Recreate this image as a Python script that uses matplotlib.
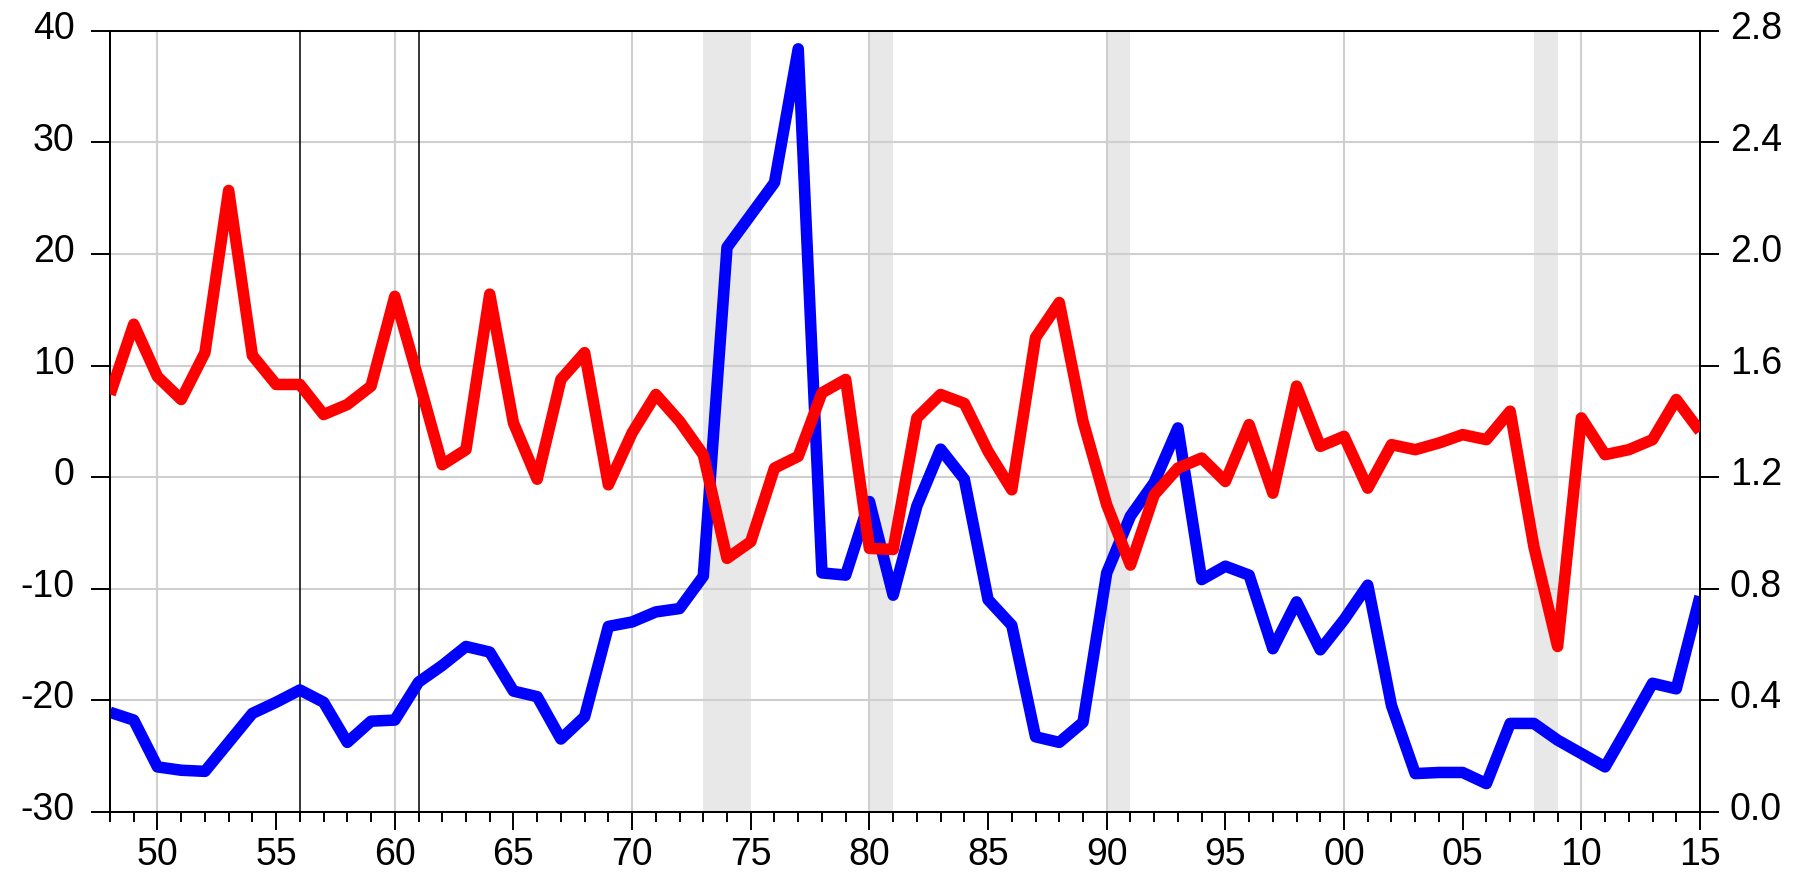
import matplotlib
matplotlib.use("Agg")
import matplotlib.pyplot as plt
from matplotlib.transforms import ScaledTranslation

plt.rcParams["font.family"] = ["Liberation Sans", "DejaVu Sans"]
plt.rcParams["axes.unicode_minus"] = False

# annual observations 1948-2015
years = list(range(1948, 2016))

# blue series, left scale
blue = [-21.1, -21.8, -26.0, -26.3, -26.4, -23.8, -21.2, -20.2, -19.1, -20.2,
        -23.8, -21.9, -21.8, -18.4, -16.9, -15.2, -15.7, -19.2, -19.7, -23.5,
        -21.5, -13.4, -13.0, -12.1, -11.8, -8.9, 20.6, 23.5, 26.4, 38.4,
        -8.6, -8.8, -2.2, -10.6, -2.6, 2.5, -0.2, -11.0, -13.3, -23.3,
        -23.8, -22.0, -8.6, -3.5, -0.5, 4.4, -9.2, -8.0, -8.8, -15.4,
        -11.2, -15.5, -12.8, -9.7, -20.5, -26.6, -26.5, -26.5, -27.5, -22.1,
        -22.1, -23.6, -24.8, -26.0, -22.3, -18.5, -19.0, -10.7]

# red series, right scale
red = [1.496, 1.748, 1.560, 1.478, 1.646, 2.228, 1.636, 1.532, 1.532, 1.424,
       1.460, 1.526, 1.848, 1.550, 1.244, 1.298, 1.856, 1.394, 1.192, 1.550,
       1.646, 1.172, 1.358, 1.496, 1.400, 1.280, 0.908, 0.968, 1.232, 1.274,
       1.502, 1.550, 0.944, 0.940, 1.412, 1.496, 1.464, 1.292, 1.154, 1.700,
       1.826, 1.400, 1.100, 0.884, 1.136, 1.232, 1.268, 1.184, 1.388, 1.142,
       1.526, 1.310, 1.346, 1.160, 1.316, 1.298, 1.322, 1.352, 1.334, 1.436,
       0.950, 0.592, 1.412, 1.280, 1.298, 1.334, 1.478, 1.364]

# recession bands and marker lines
rec_start = [1973, 1980, 1990, 2008]
rec_end = [1975, 1981, 1991, 2009]
marker_years = [1956, 1961]

left_ticks = [-30, -20, -10, 0, 10, 20, 30, 40]
right_ticks = [0.0, 0.4, 0.8, 1.2, 1.6, 2.0, 2.4, 2.8]
grid_years = [1950, 1960, 1970, 1980, 1990, 2000, 2010]

fig = plt.figure(figsize=(18.04, 8.72), dpi=100)
ax = fig.add_axes([0.06098, 0.06938, 0.88137, 0.89507])
ax2 = ax.twinx()

for s, e in zip(rec_start, rec_end):
    ax.axvspan(s, e, color="#e8e8e8", lw=0, zorder=0)
for y in left_ticks:
    ax.axhline(y, color="#cfcfcf", lw=1.5, zorder=1)
for x in grid_years:
    ax.axvline(x, color="#cfcfcf", lw=1.5, zorder=1)
for x in marker_years:
    ax.axvline(x, color="black", lw=1.1, zorder=2)

ax.plot(years, blue, color="#0000ff", lw=8.3, solid_joinstyle="round",
        solid_capstyle="butt", zorder=3)
ax2.plot(years, red, color="#ff0000", lw=8.3, solid_joinstyle="round",
         solid_capstyle="butt", zorder=3)

ax.set_xlim(1948, 2015)
ax.set_ylim(-30, 40)
ax2.set_ylim(0.0, 2.8)

ax.set_yticks(left_ticks)
ax.set_yticklabels([str(v) for v in left_ticks])
ax2.set_yticks(right_ticks)
ax2.set_yticklabels(["%.1f" % v for v in right_ticks])

major_x = list(range(1950, 2016, 5))
ax.set_xticks(major_x)
ax.set_xticklabels(["%02d" % (y % 100) for y in major_x])
ax.set_xticks(years, minor=True)

ax.tick_params(axis="x", which="major", direction="out", length=13, width=1.4,
               pad=5, labelsize=27)
ax.tick_params(axis="x", which="minor", direction="out", length=7, width=1.4)
ax.tick_params(axis="y", direction="out", length=13.5, width=1.4, pad=12,
               labelsize=27)
ax2.tick_params(axis="y", direction="out", length=14, width=1.4, pad=7.5,
                labelsize=27)

# y labels sit a little above their ticks in the original
lift = ScaledTranslation(0, 4 / 72, fig.dpi_scale_trans)
for lab in ax.get_yticklabels() + ax2.get_yticklabels():
    lab.set_transform(lab.get_transform() + lift)

for a in (ax, ax2):
    for sp in a.spines.values():
        sp.set_linewidth(1.3)
        sp.set_color("black")

fig.savefig("out.png", dpi=100)
